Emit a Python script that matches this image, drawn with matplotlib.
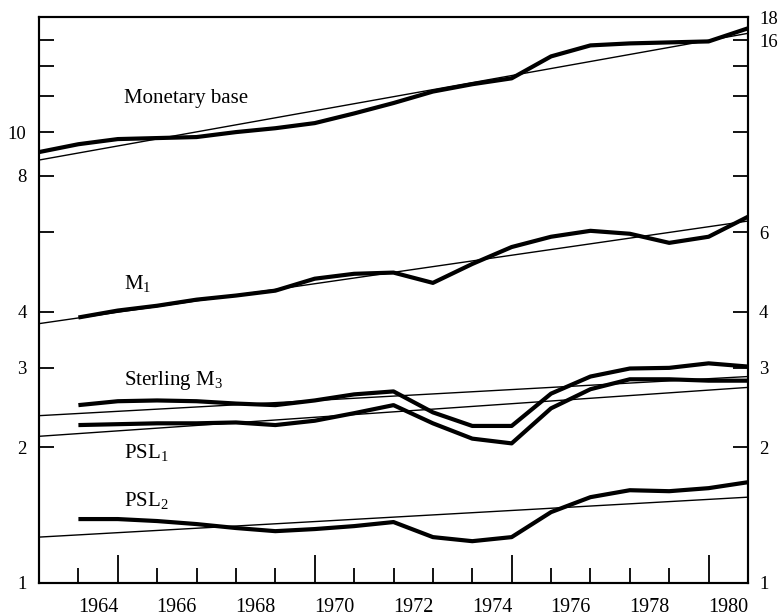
import matplotlib
matplotlib.use('Agg')
import matplotlib.pyplot as plt
from matplotlib.ticker import FixedLocator, FixedFormatter, NullLocator

plt.rcParams['font.family'] = ['Liberation Serif', 'DejaVu Serif']
plt.rcParams['mathtext.fontset'] = 'custom'
plt.rcParams['mathtext.rm'] = 'Liberation Serif'
plt.rcParams['mathtext.it'] = 'Liberation Serif:italic'

# annual values (log scale)
years_mb = list(range(1963, 1982))
monetary_base = [9.03, 9.40, 9.65, 9.70, 9.75, 10.0, 10.2, 10.47, 11.0, 11.6,
                 12.3, 12.77, 13.16, 14.72, 15.57, 15.73, 15.81, 15.89, 16.99]
years = list(range(1964, 1982))
m1 = [3.88, 4.02, 4.12, 4.25, 4.34, 4.45, 4.73, 4.85, 4.88, 4.63,
      5.10, 5.56, 5.86, 6.04, 5.95, 5.68, 5.86, 6.49]
sterling_m3 = [2.48, 2.53, 2.54, 2.53, 2.50, 2.48, 2.54, 2.62, 2.66, 2.39,
               2.23, 2.23, 2.63, 2.87, 2.99, 3.00, 3.07, 3.02]
psl1 = [2.24, 2.25, 2.26, 2.26, 2.27, 2.24, 2.29, 2.38, 2.48, 2.26,
        2.09, 2.04, 2.44, 2.69, 2.83, 2.83, 2.81, 2.81]
psl2 = [1.386, 1.386, 1.372, 1.351, 1.324, 1.303, 1.317, 1.337, 1.365, 1.264,
        1.238, 1.264, 1.436, 1.55, 1.606, 1.598, 1.623, 1.673]

# trend lines (end points)
trend_years = [1963, 1981]
mb_trend = [8.67, 16.56]
m1_trend = [3.76, 6.35]
m3_trend = [2.35, 2.87]
psl1_trend = [2.115, 2.715]
psl2_trend = [1.264, 1.55]

series_labels = ['Monetary base', 'M$_1$', 'Sterling M$_3$', 'PSL$_1$', 'PSL$_2$']
label_y = [11.9, 4.61, 2.81, 1.95, 1.526]

yticks = [1, 2, 3, 4, 6, 8, 10, 12, 14, 16, 18]
left_labels = ['1', '2', '3', '4', '', '8', '10', '', '', '', '']
right_labels = ['1', '2', '3', '4', '6', '', '', '', '', '16', '18']
year_labels = [str(y) for y in range(1964, 1981, 2)]

fig = plt.figure(figsize=(7.82, 6.16), dpi=100)
ax = fig.add_axes([0.0499, 0.0536, 0.9066, 0.9188])

thick = dict(color='black', lw=3.0, solid_joinstyle='round', solid_capstyle='butt')
thin = dict(color='black', lw=1.0)

ax.plot(years_mb, monetary_base, **thick)
for s in [m1, sterling_m3, psl1, psl2]:
    ax.plot(years, s, **thick)
for t in [mb_trend, m1_trend, m3_trend, psl1_trend, psl2_trend]:
    ax.plot(trend_years, t, **thin)

for lab, yv in zip(series_labels, label_y):
    ax.text(1965.15, yv, lab, fontsize=15, va='center', ha='left')

ax.set_yscale('log')
ax.set_ylim(1, 18)
ax.set_xlim(1963, 1981)

ax.yaxis.set_major_locator(FixedLocator(yticks))
ax.yaxis.set_major_formatter(FixedFormatter(left_labels))
ax.yaxis.set_minor_locator(NullLocator())
ax.tick_params(axis='y', direction='in', length=10.5, width=1.3, labelsize=13.5, pad=9)

ax2 = ax.twinx()
ax2.set_yscale('log')
ax2.set_ylim(1, 18)
ax2.yaxis.set_major_locator(FixedLocator(yticks))
ax2.yaxis.set_major_formatter(FixedFormatter(right_labels))
ax2.yaxis.set_minor_locator(NullLocator())
ax2.tick_params(axis='y', direction='in', length=10.5, width=1.3, labelsize=13.5, pad=8)

# year ticks: short every year, long every five, labels mid-interval
ax.xaxis.set_major_locator(FixedLocator(list(range(1964, 1981))))
ax.xaxis.set_major_formatter(FixedFormatter([''] * 17))
ax.xaxis.set_minor_locator(FixedLocator([y + 0.5 for y in range(1964, 1981, 2)]))
ax.xaxis.set_minor_formatter(FixedFormatter(year_labels))
ax.tick_params(axis='x', which='major', direction='in', length=10.8, width=1.3)
ax.tick_params(axis='x', which='minor', direction='in', length=0, labelsize=14.5, pad=10.5)
for tick, loc in zip(ax.xaxis.get_major_ticks(), range(1964, 1981)):
    if loc % 5 == 0:
        tick.tick1line.set_markersize(20)

for a in (ax, ax2):
    for sp in a.spines.values():
        sp.set_linewidth(1.5)

plt.savefig('out.png', dpi=100)
